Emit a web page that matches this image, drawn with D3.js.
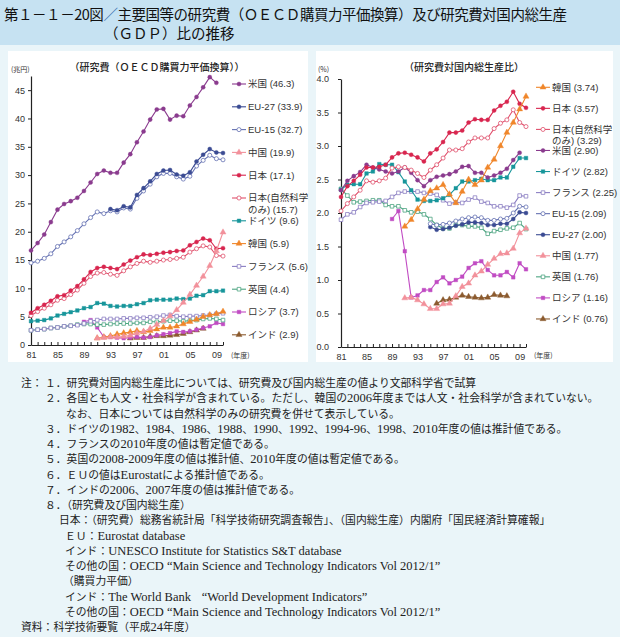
<!DOCTYPE html>
<html>
<head>
<meta charset="utf-8">
<script src="https://cdn.jsdelivr.net/npm/d3@7"></script>
<style>
  body { margin: 0; background: #eaf5f9; }
  svg { display: block; font-family: "Liberation Sans", "Noto Sans CJK JP", sans-serif; }
</style>
</head>
<body>
<svg id="canvas" width="620" height="637"></svg>
<script>
// ── Data ──
const years = [1981, 1982, 1983, 1984, 1985, 1986, 1987, 1988, 1989, 1990,
               1991, 1992, 1993, 1994, 1995, 1996, 1997, 1998, 1999, 2000,
               2001, 2002, 2003, 2004, 2005, 2006, 2007, 2008, 2009, 2010];

// 研究費（兆円, OECD購買力平価換算）
const rdUS      = [16.7, 18.0, 19.5, 21.7, 23.9, 24.9, 25.4, 26.0, 27.2, 28.7, 30.2, 30.8, 30.4, 30.4, 32.2, 33.7, 35.8, 37.7, 39.8, 41.6, 41.7, 39.8, 40.5, 40.4, 42.3, 43.8, 45.5, 47.3, 46.3, null];
const rdEU27    = [null, null, null, null, null, null, null, null, null, null, null, null, 24.0, 23.8, 24.5, 24.3, 26.5, 27.7, 28.9, 30.2, 30.8, 30.9, 30.1, 29.9, 30.5, 32.4, 33.6, 34.6, 34.0, 33.9];
const rdEU15    = [14.5, 14.8, 15.3, 16.1, 17.4, 18.2, 19.1, 20.2, 21.4, 22.5, 23.5, 23.2, 23.7, 23.5, 24.2, 24.0, 25.9, 27.2, 28.4, 29.7, 30.3, 30.3, 29.7, 29.3, 29.8, 31.6, 32.6, 33.5, 32.9, 32.7];
const rdChina   = [null, null, null, null, null, null, null, null, null, null, 1.2, 1.3, 1.4, 1.4, 1.5, 1.7, 2.1, 2.4, 2.9, 3.6, 4.3, 5.1, 6.2, 7.5, 8.9, 10.5, 12.1, 14.0, 16.6, 19.9];
const rdJapan   = [5.7, 6.5, 7.1, 7.8, 8.6, 8.8, 9.6, 10.4, 11.6, 12.9, 13.6, 13.8, 13.6, 13.4, 14.2, 14.9, 15.5, 16.0, 15.9, 16.1, 16.3, 16.4, 16.6, 16.7, 17.6, 18.2, 18.8, 18.5, 17.0, 17.1];
const rdJapanNS = [5.2, 5.9, 6.5, 7.1, 7.9, 8.2, 8.9, 9.7, 10.9, 12.1, 12.7, 12.8, 12.5, 12.3, 13.1, 13.8, 14.4, 14.8, 14.6, 14.8, 15.0, 15.1, 15.3, 15.5, 16.4, 17.0, 17.5, 17.3, 15.8, 15.7];
const rdGermany = [4.2, 4.3, 4.4, 4.7, 5.2, 5.5, 5.8, 6.1, 6.5, 6.7, 7.4, 7.3, 6.9, 6.8, 6.9, 6.9, 7.2, 7.4, 7.9, 8.0, 8.0, 8.0, 8.2, 8.1, 8.2, 8.7, 8.8, 9.5, 9.5, 9.6];
const rdKorea   = [null, null, null, null, null, null, null, null, null, null, 1.2, 1.4, 1.6, 1.9, 2.1, 2.3, 2.5, 2.3, 2.5, 2.8, 3.1, 3.1, 3.3, 3.7, 4.1, 4.5, 5.0, 5.3, 5.5, 5.9];
const rdFrance  = [2.6, 2.7, 2.8, 3.0, 3.1, 3.3, 3.4, 3.5, 3.8, 4.2, 4.4, 4.6, 4.6, 4.6, 4.7, 4.7, 4.8, 4.8, 4.9, 5.0, 5.2, 5.3, 5.1, 5.0, 5.1, 5.1, 5.2, 5.3, 5.5, 5.6];
const rdUK      = [2.6, 2.7, 2.8, 3.0, 3.1, 3.3, 3.4, 3.6, 3.7, 3.7, 3.6, 3.6, 3.7, 3.8, 3.8, 3.8, 3.9, 3.9, 4.1, 4.1, 4.2, 4.3, 4.3, 4.2, 4.3, 4.4, 4.6, 4.7, 4.6, 4.4];
const rdRussia  = [null, null, null, null, null, null, null, null, 4.1, 4.4, 3.1, 1.4, 1.4, 1.3, 1.2, 1.3, 1.4, 1.3, 1.4, 1.7, 1.9, 2.1, 2.4, 2.3, 2.4, 2.7, 3.0, 3.3, 3.9, 3.7];
const rdIndia   = [null, null, null, null, null, null, null, null, null, null, null, null, null, null, null, 1.2, 1.3, 1.3, 1.5, 1.6, 1.6, 1.7, 1.8, 2.0, 2.3, 2.6, 2.9, null, null, null];

// 研究費対国内総生産比（%）
const gdpKorea   = [null, null, null, null, null, null, null, null, null, null, 1.80, 1.90, 2.06, 2.20, 2.33, 2.37, 2.42, 2.28, 2.15, 2.32, 2.50, 2.42, 2.49, 2.68, 2.80, 3.00, 3.20, 3.35, 3.55, 3.74];
const gdpJapan   = [2.24, 2.40, 2.48, 2.57, 2.68, 2.68, 2.69, 2.72, 2.83, 2.89, 2.90, 2.87, 2.83, 2.77, 2.89, 2.95, 3.06, 3.20, 3.20, 3.23, 3.35, 3.40, 3.39, 3.39, 3.53, 3.60, 3.66, 3.81, 3.63, 3.57];
const gdpJapanNS = [2.03, 2.14, 2.24, 2.34, 2.48, 2.46, 2.48, 2.52, 2.67, 2.69, 2.68, 2.64, 2.59, 2.53, 2.64, 2.72, 2.82, 2.94, 2.94, 2.96, 3.06, 3.12, 3.12, 3.12, 3.26, 3.34, 3.39, 3.54, 3.35, 3.29];
const gdpUS      = [2.34, 2.48, 2.55, 2.61, 2.72, 2.68, 2.65, 2.62, 2.59, 2.62, 2.68, 2.60, 2.49, 2.40, 2.49, 2.54, 2.56, 2.58, 2.62, 2.69, 2.70, 2.60, 2.60, 2.53, 2.56, 2.60, 2.66, 2.79, 2.90, null];
const gdpGermany = [2.35, 2.42, 2.43, 2.43, 2.59, 2.62, 2.73, 2.72, 2.72, 2.61, 2.47, 2.34, 2.20, 2.18, 2.18, 2.19, 2.22, 2.27, 2.37, 2.47, 2.47, 2.49, 2.51, 2.49, 2.49, 2.53, 2.53, 2.69, 2.82, 2.82];
const gdpFrance  = [1.90, 1.98, 2.01, 2.09, 2.15, 2.16, 2.17, 2.18, 2.24, 2.30, 2.32, 2.32, 2.32, 2.30, 2.29, 2.27, 2.19, 2.14, 2.16, 2.15, 2.20, 2.23, 2.17, 2.15, 2.10, 2.10, 2.08, 2.12, 2.26, 2.25];
const gdpEU15    = [null, null, null, null, null, null, null, null, null, null, null, null, null, null, 1.84, 1.82, 1.83, 1.85, 1.88, 1.91, 1.93, 1.94, 1.93, 1.89, 1.89, 1.91, 1.92, 2.00, 2.10, 2.09];
const gdpEU27    = [null, null, null, null, null, null, null, null, null, null, null, null, null, null, 1.79, 1.75, 1.76, 1.78, 1.81, 1.83, 1.86, 1.86, 1.85, 1.82, 1.82, 1.84, 1.84, 1.91, 2.01, 2.00];
const gdpChina   = [null, null, null, null, null, null, null, null, null, null, 0.73, 0.74, 0.70, 0.64, 0.57, 0.57, 0.64, 0.65, 0.76, 0.90, 0.95, 1.07, 1.13, 1.23, 1.32, 1.39, 1.40, 1.47, 1.70, 1.77];
const gdpUK      = [2.36, 2.26, 2.16, 2.17, 2.18, 2.19, 2.19, 2.12, 2.10, 2.10, 2.04, 2.01, 2.02, 1.98, 1.91, 1.82, 1.77, 1.77, 1.82, 1.82, 1.80, 1.80, 1.78, 1.69, 1.73, 1.75, 1.77, 1.78, 1.85, 1.76];
const gdpRussia  = [null, null, null, null, null, null, null, null, 1.91, 2.03, 1.43, 0.74, 0.77, 0.85, 0.85, 0.97, 1.04, 0.95, 1.00, 1.05, 1.18, 1.25, 1.28, 1.15, 1.07, 1.07, 1.12, 1.04, 1.25, 1.16];
const gdpIndia   = [null, null, null, null, null, null, null, null, null, null, null, null, null, null, null, 0.65, 0.70, 0.71, 0.74, 0.77, 0.75, 0.74, 0.73, 0.74, 0.78, 0.77, 0.76, null, null, null];

// Tick labels
const rdTicks = [0, 5, 10, 15, 20, 25, 30, 35, 40, 45];
const gdpTicks = [0, 0.5, 1.0, 1.5, 2.0, 2.5, 3.0, 3.5, 4.0];
const yearTicks = [1981, 1985, 1989, 1993, 1997, 2001, 2005, 2009];
const yearTickLabels = ["81", "85", "89", "93", "97", "01", "05", "09"];

// Colours / markers per country
const style = {
    us:      { color: "#8a3b8e", shape: d3.symbolCircle,   open: false },
    eu27:    { color: "#3b4b93", shape: d3.symbolCircle,   open: false },
    eu15:    { color: "#6571b2", shape: d3.symbolCircle,   open: true  },
    china:   { color: "#f2919b", shape: d3.symbolTriangle, open: false },
    japan:   { color: "#d8264f", shape: d3.symbolCircle,   open: false },
    japanNS: { color: "#e0506c", shape: d3.symbolCircle,   open: true  },
    germany: { color: "#17969b", shape: d3.symbolSquare,   open: false },
    korea:   { color: "#f0862a", shape: d3.symbolTriangle, open: false },
    france:  { color: "#8c7fc3", shape: d3.symbolSquare,   open: true  },
    uk:      { color: "#4da582", shape: d3.symbolSquare,   open: true  },
    russia:  { color: "#c14cc3", shape: d3.symbolSquare,   open: false },
    india:   { color: "#8b5a2e", shape: d3.symbolTriangle, open: false }
};

const leftSeries = [
    { name: "米国",   values: rdUS,      ...style.us },
    { name: "EU-27",  values: rdEU27,    ...style.eu27 },
    { name: "EU-15",  values: rdEU15,    ...style.eu15 },
    { name: "中国",   values: rdChina,   ...style.china },
    { name: "日本",   values: rdJapan,   ...style.japan },
    { name: "日本(自然科学", name2: "のみ)", values: rdJapanNS, ...style.japanNS },
    { name: "ドイツ", values: rdGermany, ...style.germany },
    { name: "韓国",   values: rdKorea,   ...style.korea },
    { name: "フランス", values: rdFrance, ...style.france },
    { name: "英国",   values: rdUK,      ...style.uk },
    { name: "ロシア", values: rdRussia,  ...style.russia },
    { name: "インド", values: rdIndia,   ...style.india }
];

const rightSeries = [
    { name: "韓国",   values: gdpKorea,   ...style.korea },
    { name: "日本",   values: gdpJapan,   ...style.japan },
    { name: "日本(自然科学", name2: "のみ)", values: gdpJapanNS, ...style.japanNS },
    { name: "米国",   values: gdpUS,      ...style.us },
    { name: "ドイツ", values: gdpGermany, ...style.germany },
    { name: "フランス", values: gdpFrance, ...style.france },
    { name: "EU-15",  values: gdpEU15,    ...style.eu15 },
    { name: "EU-27",  values: gdpEU27,    ...style.eu27 },
    { name: "中国",   values: gdpChina,   ...style.china },
    { name: "英国",   values: gdpUK,      ...style.uk },
    { name: "ロシア", values: gdpRussia,  ...style.russia },
    { name: "インド", values: gdpIndia,   ...style.india }
];

// row index, x, text
const notes = [
    { r: 0,  x: 21, t: "注：" },
    { r: 0,  x: 45, t: "１．研究費対国内総生産比については、研究費及び国内総生産の値より文部科学省で試算" },
    { r: 1,  x: 45, t: "２．各国とも人文・社会科学が含まれている。ただし、韓国の2006年度までは人文・社会科学が含まれていない。" },
    { r: 2,  x: 66, t: "なお、日本については自然科学のみの研究費を併せて表示している。" },
    { r: 3,  x: 45, t: "３．ドイツの1982、1984、1986、1988、1990、1992、1994-96、1998、2010年度の値は推計値である。" },
    { r: 4,  x: 45, t: "４．フランスの2010年度の値は暫定値である。" },
    { r: 5,  x: 45, t: "５．英国の2008-2009年度の値は推計値、2010年度の値は暫定値である。" },
    { r: 6,  x: 45, t: "６．ＥＵの値はEurostatによる推計値である。" },
    { r: 7,  x: 45, t: "７．インドの2006、2007年度の値は推計値である。" },
    { r: 8,  x: 45, t: "８．（研究費及び国内総生産）" },
    { r: 9,  x: 59, t: "日本：（研究費）総務省統計局「科学技術研究調査報告」、（国内総生産）内閣府「国民経済計算確報」" },
    { r: 10, x: 65, t: "ＥＵ：Eurostat database" },
    { r: 11, x: 65, t: "インド：UNESCO Institute for Statistics S&T database" },
    { r: 12, x: 65, t: "その他の国：OECD “Main Science and Technology Indicators Vol 2012/1”" },
    { r: 13, x: 63, t: "（購買力平価）" },
    { r: 14, x: 65, t: "インド：The World Bank　“World Development Indicators”" },
    { r: 15, x: 65, t: "その他の国：OECD “Main Science and Technology Indicators Vol 2012/1”" },
    { r: 16, x: 21, t: "資料：科学技術要覧（平成24年度）" }
];

const svg = d3.select("#canvas");

// ── Background & title ──
svg.append("rect").attr("width", 620).attr("height", 637).attr("fill", "#eaf5f9");
svg.append("rect").attr("width", 620).attr("height", 45).attr("fill", "#c6e2f2");

const title1 = svg.append("text")
    .attr("x", 4).attr("y", 20)
    .attr("font-family", "Noto Sans CJK JP")
    .attr("font-size", 14.5)
    .attr("fill", "#111")
    .attr("textLength", 563).attr("lengthAdjust", "spacing");
title1.append("tspan").text("第１－１－20図");
title1.append("tspan").attr("fill", "#3a6fb0").text("／");
title1.append("tspan").text("主要国等の研究費（ＯＥＣＤ購買力平価換算）及び研究費対国内総生産");

svg.append("text")
    .attr("x", 104).attr("y", 39)
    .attr("font-family", "Noto Sans CJK JP")
    .attr("font-size", 14.5)
    .attr("fill", "#111")
    .text("（ＧＤＰ）比の推移");

// panels
svg.append("rect").attr("x", 8).attr("y", 51).attr("width", 300).attr("height", 311).attr("fill", "#fff");
svg.append("rect").attr("x", 316).attr("y", 51).attr("width", 297).attr("height", 311).attr("fill", "#fff");

// ── Chart panel ──
function drawPanel(cfg) {
    const g = svg.append("g");
    const x = d3.scaleLinear().domain([1981, 2010]).range(cfg.xRange);
    const y = d3.scaleLinear().domain(cfg.yDomain).range(cfg.yRange);
    const labelByYear = new Map(yearTicks.map((yr, i) => [yr, yearTickLabels[i]]));

    // panel title & units
    g.append("text")
        .attr("x", cfg.titleX).attr("y", 71)
        .attr("text-anchor", "middle")
        .attr("font-family", "Noto Sans CJK JP")
        .attr("font-size", 10).attr("font-weight", 500)
        .attr("fill", "#222")
        .text(cfg.title);

    g.append("text")
        .attr("x", cfg.unitX).attr("y", 72)
        .attr("font-family", "Noto Sans CJK JP")
        .attr("font-size", 7).attr("fill", "#333")
        .text(cfg.unit);

    g.append("text")
        .attr("x", cfg.xRange[1] + 8).attr("y", 358)
        .attr("font-family", "Noto Sans CJK JP")
        .attr("font-size", 7).attr("fill", "#333")
        .text("(年度)");

    // axes
    const yAxis = g.append("g")
        .attr("transform", `translate(${cfg.xRange[0]},0)`)
        .call(d3.axisLeft(y)
            .tickValues(cfg.yTicks)
            .tickSize(3).tickSizeOuter(0)
            .tickPadding(cfg.yPad)
            .tickFormat(d3.format(cfg.yFormat)));

    const xAxis = g.append("g")
        .attr("transform", `translate(0,${cfg.yRange[0]})`)
        .call(d3.axisBottom(x)
            .tickValues(years)
            .tickSize(-3).tickSizeOuter(0)
            .tickPadding(7)
            .tickFormat(d => labelByYear.get(d) || ""));

    [yAxis, xAxis].forEach(a => {
        a.select(".domain").attr("stroke", "#222").attr("stroke-width", 1.2);
        a.selectAll(".tick line").attr("stroke", "#222");
        a.selectAll(".tick text")
            .attr("font-family", "Liberation Sans")
            .attr("font-size", 9)
            .attr("fill", "#333");
    });

    // ── Lines ──
    const line = d3.line()
        .defined(d => d[1] != null)
        .x(d => x(d[0]))
        .y(d => y(d[1]));

    const symbol = d3.symbol();

    cfg.series.slice().reverse().forEach(s => {
        const pts = years.map((yr, i) => [yr, s.values[i]]);

        g.append("path")
            .datum(pts)
            .attr("fill", "none")
            .attr("stroke", s.color)
            .attr("stroke-width", 1.1)
            .attr("d", line);

        g.selectAll(null)
            .data(pts.filter(d => d[1] != null))
            .enter().append("path")
            .attr("transform", d => `translate(${x(d[0])},${y(d[1])})`)
            .attr("d", symbol.type(s.shape).size(s.shape === d3.symbolTriangle ? 16 : 13)())
            .attr("fill", s.open ? "#fff" : s.color)
            .attr("stroke", s.color)
            .attr("stroke-width", s.open ? 0.8 : 0.4);
    });

    // ── Legend ──
    const fmt = d3.format(cfg.valFormat);
    cfg.series.forEach((s, i) => {
        const ly = cfg.legendY0 + i * cfg.legendStep;
        const lx = cfg.legendX;
        const last = s.values.filter(v => v != null).pop();

        g.append("line")
            .attr("x1", lx).attr("x2", lx + 14)
            .attr("y1", ly).attr("y2", ly)
            .attr("stroke", s.color).attr("stroke-width", 1.1);

        g.append("path")
            .attr("transform", `translate(${lx + 7},${ly})`)
            .attr("d", d3.symbol().type(s.shape).size(s.shape === d3.symbolTriangle ? 16 : 13)())
            .attr("fill", s.open ? "#fff" : s.color)
            .attr("stroke", s.color)
            .attr("stroke-width", s.open ? 0.8 : 0.4);

        const t = g.append("text")
            .attr("x", lx + 16).attr("y", ly)
            .attr("dy", "0.35em")
            .attr("font-family", "Liberation Sans, Noto Sans CJK JP")
            .attr("font-size", 9.5)
            .attr("fill", "#333");

        if (s.name2) {
            t.text(s.name);
            g.append("text")
                .attr("x", lx + 16).attr("y", ly + 11.5)
                .attr("dy", "0.35em")
                .attr("font-family", "Liberation Sans, Noto Sans CJK JP")
                .attr("font-size", 9.5)
                .attr("fill", "#333")
                .text(`${s.name2} (${fmt(last)})`);
        } else {
            t.text(`${s.name} (${fmt(last)})`);
        }
    });
}

drawPanel({
    title: "（研究費（ＯＥＣＤ購買力平価換算））",
    titleX: 157,
    unit: "(兆円)",
    unitX: 11,
    xRange: [31, 223],
    yDomain: [0, 47.5],
    yRange: [345, 76],
    yTicks: rdTicks,
    yFormat: "d",
    yPad: 3,
    valFormat: ".1f",
    series: leftSeries,
    legendX: 232,
    legendY0: 84,
    legendStep: 22.8
});

drawPanel({
    title: "（研究費対国内総生産比）",
    titleX: 464,
    unit: "(%)",
    unitX: 318,
    xRange: [341, 526],
    yDomain: [0, 4],
    yRange: [347, 79],
    yTicks: gdpTicks,
    yFormat: ".1f",
    yPad: 9,
    valFormat: ".2f",
    series: rightSeries,
    legendX: 536,
    legendY0: 87.3,
    legendStep: 21.06
});

// ── Notes ──
// Latin runs are set in a serif face a little larger than the Japanese text
const latinRun = /([\x20-\x7E“”]+)/;
const notesG = svg.append("g");
notes.forEach(n => {
    const t = notesG.append("text")
        .attr("x", n.x)
        .attr("y", 387 + n.r * 15.25)
        .attr("font-family", "Noto Sans CJK JP")
        .attr("font-size", 10.8)
        .attr("fill", "#222");
    n.t.split(latinRun).filter(p => p.length).forEach(p => {
        const isLatin = latinRun.test(p) && p.match(latinRun)[0] === p;
        t.append("tspan")
            .attr("font-family", isLatin ? "Liberation Serif" : "Noto Sans CJK JP")
            .attr("font-size", isLatin ? 12.5 : 10.8)
            .text(p);
    });
});
</script>
</body>
</html>
